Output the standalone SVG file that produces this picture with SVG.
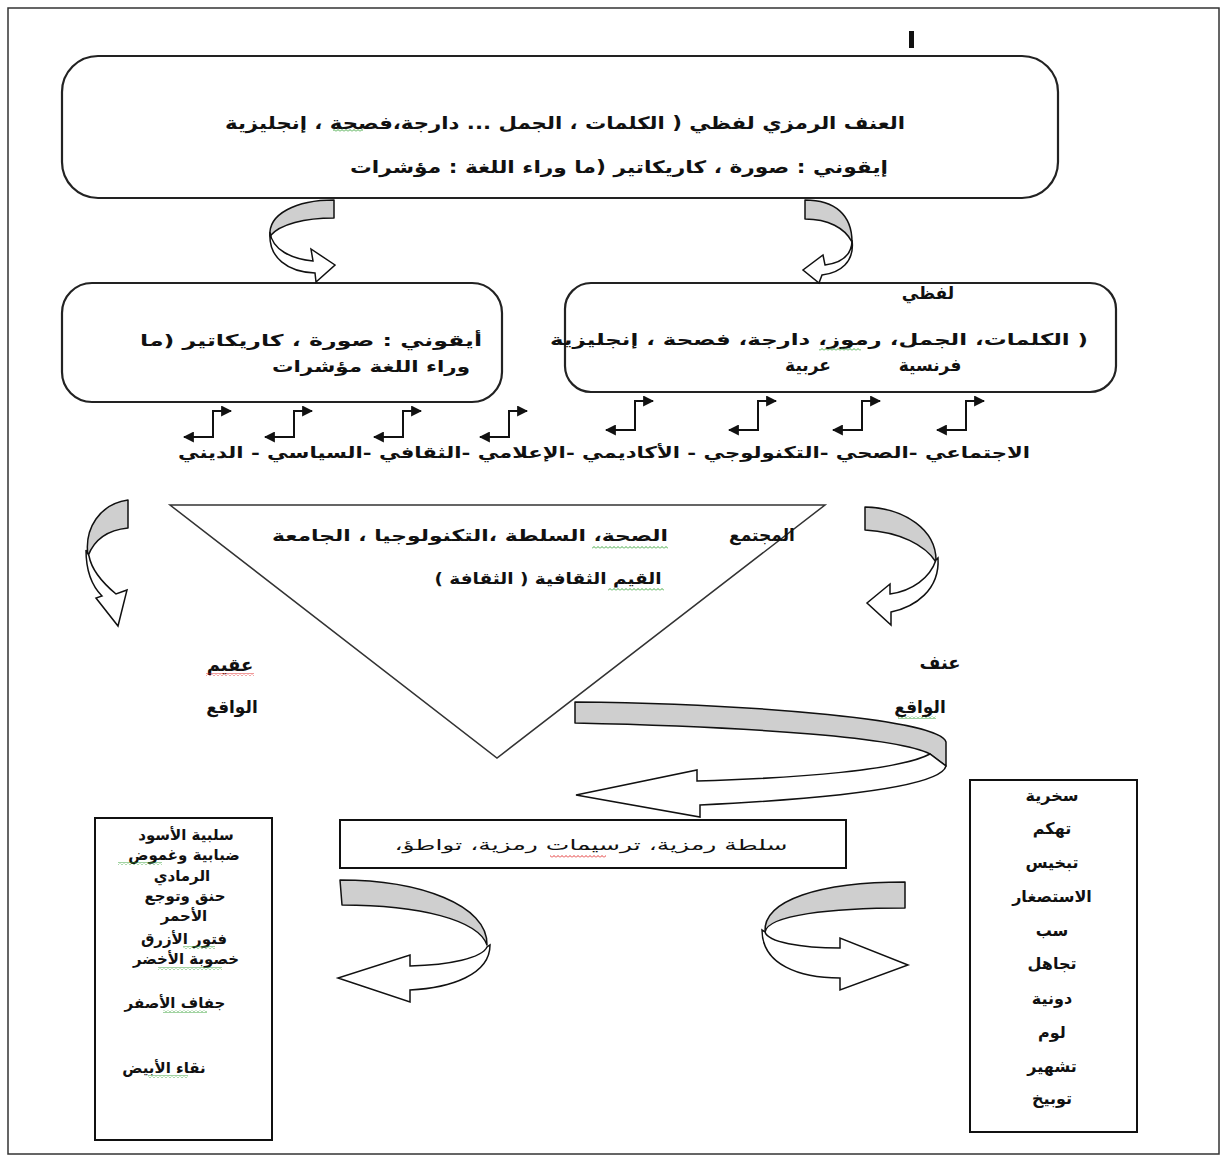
<svg xmlns="http://www.w3.org/2000/svg" width="1227" height="1161" viewBox="0 0 1227 1161">
  <style>
    .ar { font-family: "DejaVu Sans", "Noto Sans", sans-serif; font-weight: bold; fill: #111; direction: rtl; text-anchor: middle; }
    .reg { font-weight: normal; }
    .lst { font-size: 15px; }
    .lst2 { font-size: 16px; }
    .box { fill: #fff; stroke: #222; stroke-width: 2.2; }
    .sq { fill: #fff; stroke: #111; stroke-width: 2; }
    .tri { fill: #fff; stroke: #333; stroke-width: 1.5; }
    .band { fill: #cfcfcf; stroke: #111; stroke-width: 1.5; stroke-linejoin: round; }
    .ribbon { fill: #fff; stroke: #111; stroke-width: 1.5; stroke-linejoin: miter; }
    .elbow { fill: none; stroke: #111; stroke-width: 2; marker-start: url(#ah); marker-end: url(#ah); }
  </style>
  <defs>
    <marker id="ah" viewBox="0 0 10 10" refX="9" refY="5" markerWidth="11" markerHeight="11" markerUnits="userSpaceOnUse" orient="auto-start-reverse">
      <path d="M0,0 L10,5 L0,10 Z" fill="#111"/>
    </marker>
    <pattern id="wg" width="4" height="3" patternUnits="userSpaceOnUse">
      <path d="M0,2.5 L2,0.5 L4,2.5" fill="none" stroke="#2f9e2f" stroke-width="0.9"/>
    </pattern>
    <pattern id="wr" width="4" height="3" patternUnits="userSpaceOnUse">
      <path d="M0,2.5 L2,0.5 L4,2.5" fill="none" stroke="#e02020" stroke-width="0.9"/>
    </pattern>
  </defs>

  <rect width="1227" height="1161" fill="#fff"/>
  <!-- page frame -->
  <rect x="8" y="8" width="1211" height="1146" fill="none" stroke="#333" stroke-width="1.5"/>
  <rect x="909" y="31" width="5" height="17" fill="#111"/>

  <!-- top: symbolic violence -->
  <g id="node-symbolic">
    <rect class="box" x="62" y="56" width="996" height="142" rx="36"/>
    <text class="ar" x="565" y="129" font-size="17" textLength="680" lengthAdjust="spacingAndGlyphs">العنف الرمزي لفظي ( الكلمات ، الجمل ... دارجة،فصحة ، إنجليزية</text>
    <text class="ar" x="619" y="173" font-size="17" textLength="538" lengthAdjust="spacingAndGlyphs">إيقوني : صورة ، كاريكاتير  (ما وراء اللغة : مؤشرات</text>
    <rect x="333" y="129" width="30" height="3" fill="url(#wg)"/>
  </g>

  <!-- iconic branch -->
  <g id="node-iconic">
    <rect class="box" x="62" y="283" width="440" height="119" rx="30"/>
    <text class="ar" x="311" y="346" font-size="16" textLength="342" lengthAdjust="spacingAndGlyphs">أيقوني : صورة ، كاريكاتير  (ما</text>
    <text class="ar" x="371" y="372" font-size="16" textLength="198" lengthAdjust="spacingAndGlyphs">وراء اللغة مؤشرات</text>
  </g>

  <!-- verbal branch -->
  <g id="node-verbal">
    <rect class="box" x="565" y="283" width="551" height="109" rx="26"/>
    <text class="ar" x="928" y="299" font-size="17">لفظي</text>
    <text class="ar" x="819" y="345" font-size="16" textLength="538" lengthAdjust="spacingAndGlyphs">( الكلمات، الجمل، رموز،   دارجة، فصحة ، إنجليزية</text>
    <text class="ar" x="930" y="371" font-size="17">فرنسية</text>
    <text class="ar" x="808" y="371" font-size="17">عربية</text>
    <rect x="819" y="348" width="42" height="3" fill="url(#wg)"/>
  </g>

  <!-- fields -->
  <g id="node-fields">
    <text class="ar" x="604" y="458" font-size="16" textLength="852" lengthAdjust="spacingAndGlyphs">الاجتماعي -الصحي -التكنولوجي - الأكاديمي -الإعلامي -الثقافي -السياسي - الديني</text>
  </g>

  <!-- institutions triangle -->
  <g id="node-institutions">
    <polygon class="tri" points="170,505 825,505 497,758"/>
    <text class="ar" x="762" y="541" font-size="17">المجتمع</text>
    <text class="ar" x="470" y="541" font-size="16" textLength="396" lengthAdjust="spacingAndGlyphs">الصحة، السلطة ،التكنولوجيا ، الجامعة</text>
    <text class="ar" x="548" y="584" font-size="16" textLength="227" lengthAdjust="spacingAndGlyphs">القيم الثقافية ( الثقافة )</text>
    <rect x="592" y="546" width="76" height="3" fill="url(#wg)"/>
    <rect x="608" y="588" width="56" height="3" fill="url(#wg)"/>
  </g>

  <g id="node-sterile">
    <text class="ar" x="230" y="671" font-size="18">عقيم</text>
    <text class="ar" x="232" y="713" font-size="17">الواقع</text>
    <rect x="206" y="673" width="48" height="3" fill="url(#wr)"/>
  </g>

  <g id="node-violence">
    <text class="ar" x="940" y="669" font-size="18">عنف</text>
    <text class="ar" x="920" y="713" font-size="17">الواقع</text>
    <rect x="898" y="716" width="38" height="3" fill="url(#wg)"/>
  </g>

  <!-- symbolic power -->
  <g id="node-power">
    <rect class="sq" x="340" y="820" width="506" height="48"/>
    <text class="ar reg" x="591" y="850" font-size="15" textLength="393" lengthAdjust="spacingAndGlyphs">سلطة رمزية، ترسيمات رمزية، تواطؤ،</text>
    <rect x="550" y="855" width="56" height="3" fill="url(#wr)"/>
  </g>

  <!-- colours -->
  <g id="node-colours">
    <rect class="sq" x="95" y="818" width="177" height="322"/>
    <text class="ar lst" x="186" y="840">سلبية الأسود</text>
    <text class="ar lst" x="184" y="860">ضبابية وغموض</text>
    <text class="ar lst" x="182" y="881">الرمادي</text>
    <text class="ar lst" x="185" y="901">حنق وتوجع</text>
    <text class="ar lst" x="184" y="921">الأحمر</text>
    <text class="ar lst" x="184" y="944">فتور الأزرق</text>
    <text class="ar lst" x="186" y="964">خصوبة الأخضر</text>
    <text class="ar lst" x="175" y="1008">جفاف الأصفر</text>
    <text class="ar lst" x="164" y="1073">نقاء الأبيض</text>
    <rect x="118" y="862" width="44" height="3" fill="url(#wg)"/>
    <rect x="183" y="946" width="32" height="3" fill="url(#wg)"/>
    <rect x="158" y="967" width="64" height="3" fill="url(#wg)"/>
    <rect x="163" y="1010" width="44" height="3" fill="url(#wg)"/>
    <rect x="148" y="1075" width="40" height="3" fill="url(#wg)"/>
  </g>

  <!-- verbal abuse list -->
  <g id="node-abuse">
    <rect class="sq" x="970" y="780" width="167" height="352"/>
    <text class="ar lst2" x="1052" y="801">سخرية</text>
    <text class="ar lst2" x="1052" y="834">تهكم</text>
    <text class="ar lst2" x="1052" y="868">تبخيس</text>
    <text class="ar lst2" x="1052" y="902">الاستصغار</text>
    <text class="ar lst2" x="1052" y="936">سب</text>
    <text class="ar lst2" x="1052" y="969">تجاهل</text>
    <text class="ar lst2" x="1052" y="1004">دونية</text>
    <text class="ar lst2" x="1052" y="1038">لوم</text>
    <text class="ar lst2" x="1052" y="1072">تشهير</text>
    <text class="ar lst2" x="1052" y="1104">توبيخ</text>
  </g>

  <g id="connectors">
    <!-- top left U-turn -->
    <path class="band" d="M334,200 L334,218 C305,218 280,224 270,236 C268,214 296,200 334,200 Z"/>
    <path class="ribbon" d="M270,232 C272,250 292,259 313,261 L311,249 L335,265 L316,282 L315,273 C288,272 268,258 270,232 Z"/>
    <!-- top right U-turn -->
    <path class="band" d="M805,200 C835,200 852,215 852,242 C845,228 828,219 805,219 Z"/>
    <path class="ribbon" d="M852,240 C852,256 840,263 825,265 L823,255 L803,270 L819,283 L822,275 C840,273 855,262 852,240 Z"/>

    <!-- elbow links to fields -->
    <path class="elbow" d="M184,437 H213 V411 H231"/>
    <path class="elbow" d="M265,437 H294 V411 H312"/>
    <path class="elbow" d="M374,437 H403 V411 H421"/>
    <path class="elbow" d="M480,437 H509 V411 H527"/>
    <path class="elbow" d="M606,430 H635 V401 H653"/>
    <path class="elbow" d="M729,430 H758 V401 H776"/>
    <path class="elbow" d="M833,430 H862 V401 H880"/>
    <path class="elbow" d="M937,430 H966 V401 H984"/>

    <!-- left side U-turn -->
    <path class="band" d="M128,500 L128,528 C108,530 94,540 88,556 C84,528 100,504 128,500 Z"/>
    <path class="ribbon" d="M86,550 C86,575 94,588 102,596 L96,598 L118,626 L127,590 L116,594 C104,584 92,572 89,556 Z"/>
    <!-- right side U-turn -->
    <path class="band" d="M865,507 L865,530 C900,532 925,545 936,562 C937,530 905,508 865,507 Z"/>
    <path class="ribbon" d="M938,558 C940,590 915,607 891,612 L891,625 L867,603 L890,584 L890,594 C912,591 930,578 936,560 Z"/>

    <!-- large return arrow -->
    <path class="band" d="M575,702 L575,723 C760,727 900,738 930,754 L946,766 L946,742 C940,720 760,704 575,702 Z"/>
    <path class="ribbon" d="M946,766 C940,790 800,800 700,805 L700,817 L576,795 L697,770 L697,781 C800,778 900,770 930,754 Z"/>

    <!-- bottom left U-turn -->
    <path class="band" d="M340,880 L342,905 C420,905 478,920 487,945 C488,905 420,880 340,880 Z"/>
    <path class="ribbon" d="M490,945 C490,975 450,988 410,990 L410,1002 L338,978 L410,955 L410,966 C450,965 482,958 487,947 Z"/>
    <!-- bottom right U-turn -->
    <path class="band" d="M905,882 L905,908 C830,908 768,915 765,932 C763,900 820,882 905,882 Z"/>
    <path class="ribbon" d="M762,930 C762,965 800,978 840,978 L840,990 L908,965 L840,938 L840,948 C800,948 768,942 765,932 Z"/>
  </g>
</svg>
